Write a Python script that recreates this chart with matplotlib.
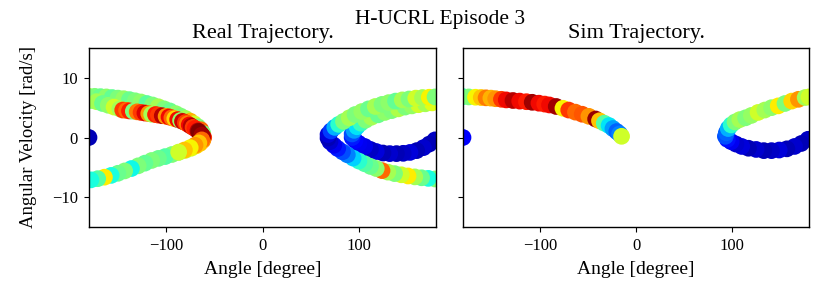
import matplotlib
matplotlib.use("Agg")
import matplotlib.pyplot as plt

plt.rcParams['font.family'] = ['Liberation Serif', 'DejaVu Serif']

# ---------------- data ----------------
real_angle = [
    -180,
    179, 173, 167, 160, 153, 146, 139, 132, 125, 118, 112, 106, 100, 96, 93,
    93, 95, 98, 102, 107, 113, 120, 127, 134, 141, 148, 155, 162, 169, 176,
    -180, -174, -168, -162, -156, -150, -144, -138, -132, -126, -120, -114, -108, -102, -96, -90, -85, -80, -75, -71, -67, -64, -62,
    -61, -62, -65, -69, -74, -80, -87, -94, -101, -108, -115, -122, -129, -136, -143, -150, -157, -164, -171, -178,
    179, 172, 165, 158, 151, 144, 137, 130, 124, 118, 112, 106, 100, 94, 88, 83, 78, 74, 70, 68,
    68, 71, 75, 79, 84, 90, 96, 103, 110, 117, 124, 131, 138, 145, 152, 159, 166, 173, 179,
    -178, -172, -166, -160, -154, -148,
    -145, -141, -138, -134, -130, -126, -122, -118, -115, -111, -108, -104, -100, -97, -94, -91, -88, -85, -83, -80, -78, -76, -74, -72, -70, -67, -64, -62,
    -66, -63, -63, -66, -70, -75, -81, -87,
]
real_velocity = [
    0.0,
    -0.4, -1.1, -1.7, -2.2, -2.5, -2.65, -2.7, -2.7, -2.6, -2.35, -2.0, -1.5, -1.0, -0.5, 0.0,
    0.6, 1.2, 1.8, 2.4, 2.9, 3.4, 3.8, 4.2, 4.5, 4.8, 5.1, 5.3, 5.5, 5.65, 5.8,
    6.9, 6.9, 6.85, 6.8, 6.7, 6.6, 6.5, 6.35, 6.15, 5.95, 5.7, 5.45, 5.15, 4.8, 4.45, 4.0, 3.6, 3.2, 2.75, 2.3, 1.8, 1.3, 0.7,
    0.0, -0.5, -1.0, -1.4, -1.8, -2.15, -2.5, -2.85, -3.2, -3.5, -3.85, -4.3, -4.75, -5.2, -5.6, -6.0, -6.35, -6.65, -6.9, -7.1,
    -6.95, -6.85, -6.75, -6.6, -6.45, -6.25, -6.05, -5.8, -5.55, -5.2, -4.85, -4.4, -3.95, -3.45, -2.9, -2.4, -1.85, -1.3, -0.7, -0.1,
    0.5, 1.1, 1.7, 2.2, 2.7, 3.3, 3.85, 4.35, 4.8, 5.2, 5.55, 5.85, 6.1, 6.3, 6.45, 6.6, 6.7, 6.75, 6.8,
    6.2, 6.0, 5.7, 5.4, 5.1, 4.8,
    4.6, 4.55, 4.45, 4.4, 4.3, 4.2, 4.1, 4.0, 3.9, 3.85, 3.75, 3.65, 3.55, 3.45, 3.3, 3.15, 3.0, 2.85, 2.7, 2.5, 2.3, 2.1, 1.9, 1.7, 1.5, 1.1, 0.6, 0.15,
    1.0, 0.4, -0.4, -0.9, -1.3, -1.7, -2.1, -2.45,
]
real_color = [
    0.05,
    0.06, 0.05, 0.07, 0.05, 0.08, 0.06, 0.05, 0.07, 0.05, 0.08, 0.06, 0.09, 0.10, 0.12, 0.15,
    0.20, 0.28, 0.35, 0.42, 0.50, 0.55, 0.48, 0.52, 0.50, 0.56, 0.50, 0.53, 0.60, 0.55, 0.62,
    0.55, 0.50, 0.48, 0.52, 0.47, 0.50, 0.53, 0.48, 0.50, 0.52, 0.46, 0.50, 0.55, 0.50, 0.48, 0.52, 0.50, 0.55, 0.72, 0.60, 0.50, 0.80, 0.50,
    0.85, 0.75, 0.70, 0.68, 0.62, 0.58, 0.55, 0.50, 0.45, 0.48, 0.50, 0.47, 0.50, 0.37, 0.50, 0.48, 0.38, 0.66, 0.45, 0.38,
    0.50, 0.38, 0.48, 0.55, 0.66, 0.60, 0.50, 0.55, 0.80, 0.52, 0.48, 0.45, 0.40, 0.33, 0.25, 0.20, 0.15, 0.10, 0.07, 0.05,
    0.08, 0.18, 0.30, 0.40, 0.50, 0.55, 0.50, 0.53, 0.48, 0.55, 0.50, 0.52, 0.47, 0.55, 0.50, 0.60, 0.55, 0.65, 0.50,
    0.50, 0.55, 0.48, 0.52, 0.60, 0.55,
    0.85, 0.80, 0.88, 0.50, 0.78, 0.85, 0.92, 0.75, 0.55, 0.88, 0.85, 0.95, 0.75, 0.90, 0.80, 0.68, 0.90, 0.52, 0.93, 0.85, 0.78, 0.90, 0.95, 0.85, 0.88, 0.95, 1.00, 0.95,
    1.00, 0.97, 0.80, 0.70, 0.75, 0.65, 0.70, 0.60,
]

sim_angle = [
    -180,
    179, 172, 165, 157, 149, 141, 133, 125, 117, 110, 104, 99, 95, 93,
    94, 96, 99, 103, 108, 114, 120, 127, 134, 141, 148, 155, 162, 169, 176, 180,
    -180, -174, -167, -161, -156, -151, -146, -140, -135, -128, -121, -114, -108, -101, -95, -90, -83, -76, -70, -63, -56, -49, -42, -38, -33, -28, -24, -20, -17, -15,
]
sim_velocity = [
    0.0,
    -0.3, -1.0, -1.5, -1.9, -2.1, -2.2, -2.2, -2.0, -1.8, -1.5, -1.1, -0.7, -0.3, 0.2,
    0.8, 1.5, 2.1, 2.6, 3.0, 3.3, 3.7, 4.2, 4.6, 5.0, 5.3, 5.7, 6.1, 6.4, 6.7, 6.8,
    6.85, 6.8, 6.75, 6.7, 6.65, 6.6, 6.5, 6.4, 6.3, 6.2, 6.1, 6.0, 5.9, 5.75, 5.6, 5.45, 5.2, 4.9, 4.6, 4.25, 3.9, 3.55, 3.1, 2.8, 2.4, 2.0, 1.5, 1.0, 0.6, 0.2,
]
sim_color = [
    0.12,
    0.06, 0.05, 0.07, 0.05, 0.08, 0.06, 0.05, 0.07, 0.05, 0.08, 0.07, 0.10, 0.14, 0.20,
    0.22, 0.30, 0.40, 0.50, 0.55, 0.50, 0.53, 0.60, 0.55, 0.52, 0.66, 0.50, 0.68, 0.75, 0.55, 0.60,
    0.42, 0.50, 0.65, 0.70, 0.78, 0.72, 0.75, 0.85, 0.90, 0.95, 0.90, 0.88, 0.97, 0.90, 0.88, 0.90, 0.97, 0.65, 0.85, 0.80, 0.82, 0.75, 0.98, 0.70, 0.45, 0.35, 0.28, 0.22, 0.25, 0.60,
]

titles = ["Real Trajectory.", "Sim Trajectory."]
suptitle = "H-UCRL Episode 3"
x_ticks = [-100, 0, 100]
y_ticks = [-10, 0, 10]

# ---------------- figure ----------------
W, H = 830, 302
fig = plt.figure(figsize=(W / 100, H / 100), dpi=100)
ax1 = fig.add_axes([89 / W, (H - 227) / H, 347 / W, 179 / H])
ax2 = fig.add_axes([463 / W, (H - 227) / H, 346 / W, 179 / H], sharey=ax1)

for ax, a, v, c, t in [(ax1, real_angle, real_velocity, real_color, titles[0]),
                       (ax2, sim_angle, sim_velocity, sim_color, titles[1])]:
    ax.scatter(a, v, c=c, cmap='jet', vmin=0, vmax=1, s=145, edgecolors='none')
    ax.set_xlim(-180, 180)
    ax.set_ylim(-15, 15)
    ax.set_xticks(x_ticks)
    ax.set_yticks(y_ticks)
    ax.tick_params(labelsize=12, pad=4.5)
    ax.set_xlabel("Angle [degree]", fontsize=14, labelpad=5)
    ax.set_title(t, fontsize=16, pad=7.2)
    for sp in ax.spines.values():
        sp.set_linewidth(1.0)

ax1.set_ylabel("Angular Velocity [rad/s]", fontsize=13.5, labelpad=11)
ax2.tick_params(labelleft=False)

fig.suptitle(suptitle, x=440 / W, y=1 - 10 / H, va='top', fontsize=15.5)

fig.savefig("out.png", dpi=100)
